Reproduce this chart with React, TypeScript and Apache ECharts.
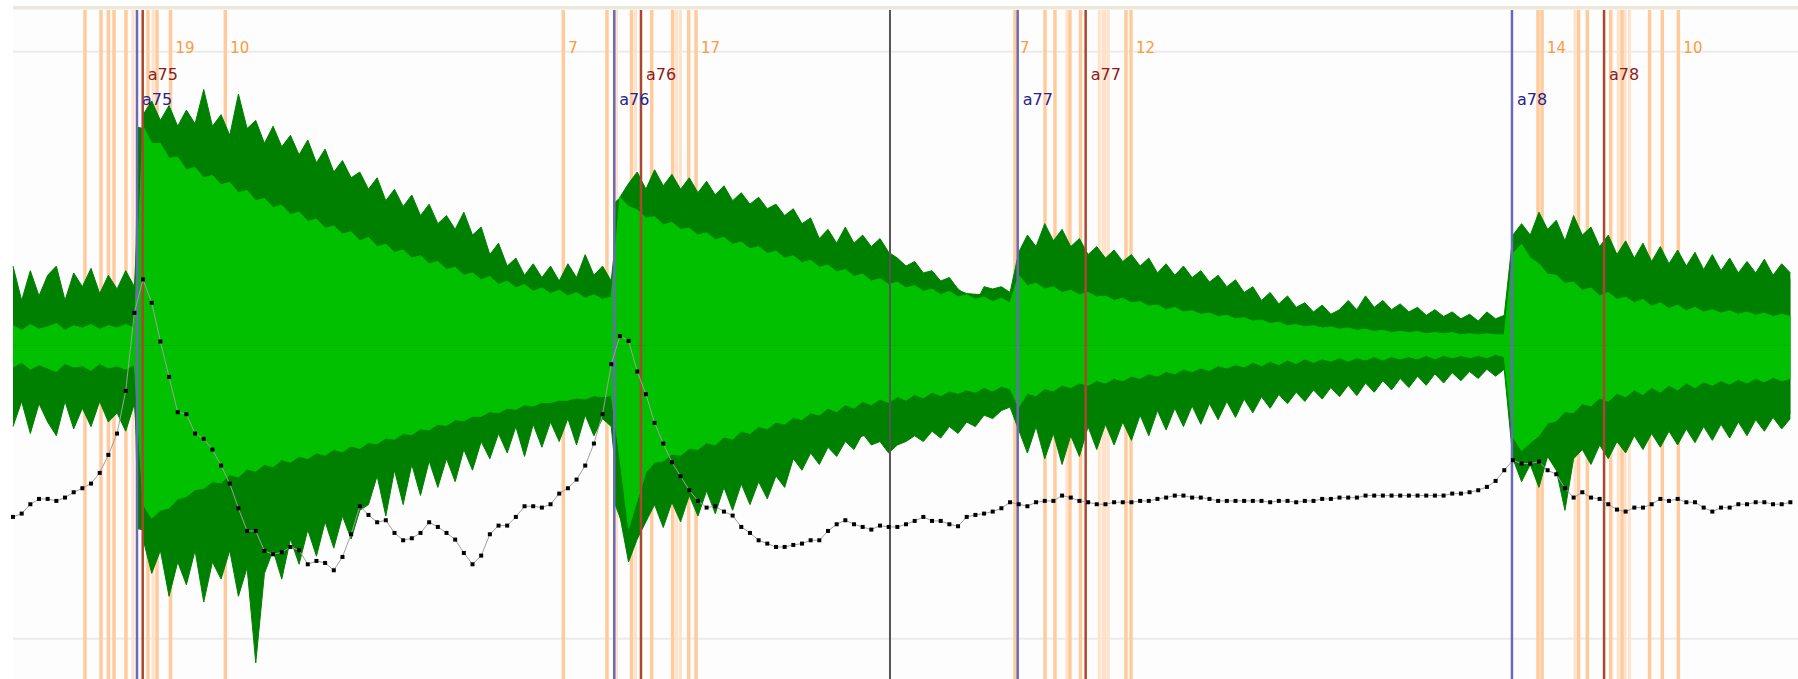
import { useEffect, useRef } from 'react';
import * as echarts from 'echarts';

// One analysis frame every 10 ms; the per-frame arrays below hold one value per frame.
const FRAME_MS = 10;

// Per-frame peak excursions of the signal (amplitude, full scale = ±256)
const peakTop = [
  69, 39, 65, 43, 61, 69, 39, 63, 51, 67, 45, 61, 49, 65, 51,
  201, 213, 196, 209, 191, 205, 193, 223, 191, 201, 183, 219, 189, 196, 176, 191, 173, 183, 166, 179,
  159, 171, 151, 161, 146, 151, 136, 146, 126, 136, 121, 131, 113, 123, 106, 113, 101, 116, 96, 103,
  79, 89, 69, 76, 61, 71, 59, 69, 56, 71, 59, 79, 61, 69, 56,
  129, 141, 151, 136, 153, 139, 149, 136, 146, 133, 143, 131, 139, 126, 133, 123, 129, 119, 123, 113,
  119, 106, 111, 93, 101, 89, 103, 89, 96, 86, 93, 81, 76, 69, 73, 63, 65, 56, 59, 49, 43, 36, 51, 49, 51, 46,
  81, 96, 86, 106, 91, 101, 86, 93, 79, 86, 76, 83, 73, 79, 69, 76, 63, 71, 61, 69,
  59, 65, 55, 61, 51, 57, 46, 51, 39, 46, 36, 43, 33, 37, 29, 35, 27, 31, 39, 31,
  43, 33, 39, 31, 36, 29, 33, 26, 31, 25, 29, 23, 27, 21, 29, 23, 26,
  96, 106, 96, 116, 101, 109, 91, 113, 96, 103, 86, 96, 79, 91, 76, 89, 73, 86, 71, 83,
  69, 81, 66, 79, 65, 76, 63, 73, 63, 75, 61, 71, 63,
];
const peakBottom = [
  -71, -49, -77, -51, -67, -79, -49, -73, -55, -71, -49, -67, -59, -75, -51,
  -169, -199, -179, -219, -189, -209, -179, -224, -189, -204, -179, -219, -194, -277, -199, -179, -204, -169, -191, -161,
  -184, -154, -177, -149, -169, -144, -139, -114, -149, -109, -139, -104, -131, -101, -124, -99, -119, -91, -109, -84,
  -99, -77, -94, -71, -97, -69, -89, -67, -84, -64, -87, -61, -79, -64, -71,
  -149, -189, -169, -154, -139, -159, -137, -154, -131, -149, -127, -147, -124, -144, -121, -139, -119, -134, -114, -124,
  -99, -109, -94, -104, -89, -97, -84, -91, -77, -87, -84, -94, -87, -84, -79, -84, -75, -81, -71, -77, -67, -71, -61, -64, -57, -54,
  -74, -94, -71, -99, -77, -104, -79, -97, -71, -91, -69, -87, -67, -83, -61, -79, -57, -74, -55, -71,
  -53, -69, -51, -65, -49, -63, -47, -59, -45, -55, -43, -51, -41, -49, -39, -47, -37, -45, -35, -44,
  -33, -41, -31, -39, -29, -37, -27, -35, -25, -33, -24, -31, -23, -29, -21, -27, -21,
  -99, -119, -104, -124, -97, -109, -144, -99, -91, -104, -87, -99, -84, -94, -79, -91, -77, -89, -75, -87,
  -73, -85, -71, -83, -69, -81, -67, -79, -65, -75, -63, -73, -64,
];

// Dense part of the signal envelope, at irregular times (ms); keeps the attacks sharp
const bandTimes = [
  0, 70, 141, 144, 200, 250, 300, 350, 400, 420, 450, 500, 550, 600, 650,
  692, 695, 710, 725, 750, 800, 850, 900, 950, 1000, 1050, 1100, 1150, 1157, 1160,
  1200, 1250, 1300, 1350, 1400, 1450, 1500, 1550, 1600, 1650, 1700, 1727, 1730, 1770, 1800,
  1850, 1900, 1950, 2000, 2050,
];
const bandTop = [
  36, 34, 36, 190, 180, 172, 165, 150, 135, 128, 112, 95, 72, 52, 50,
  48, 125, 135, 134, 128, 124, 117, 104, 86, 78, 60, 45, 42, 42, 78,
  82, 74, 65, 56, 48, 34, 27, 26, 26, 22, 20, 20, 90, 92, 86,
  74, 67, 62, 58, 57,
];
const bandBottom = [
  -46, -44, -46, -160, -170, -170, -165, -150, -130, -115, -105, -95, -78, -66, -60,
  -60, -140, -170, -150, -132, -122, -115, -95, -84, -76, -74, -64, -52, -52, -68,
  -70, -66, -58, -52, -47, -42, -37, -32, -27, -23, -19, -19, -92, -98, -92,
  -78, -72, -66, -62, -60,
];

// Per-frame RMS-like core of the signal
const coreTop = [
  17, 13, 18, 14, 16, 19, 13, 17, 15, 18, 14, 17, 15, 18, 15,
  191, 176, 176, 163, 164, 153, 155, 146, 148, 140, 142, 133, 135, 126, 128, 120, 122, 114, 116, 108,
  110, 102, 104, 97, 99, 91, 94, 86, 88, 81, 83, 76, 78, 71, 73, 66, 68, 61, 63, 57,
  60, 53, 56, 50, 53, 47, 50, 45, 48, 43, 46, 41, 44, 40, 42,
  129, 121, 118, 111, 112, 105, 107, 101, 102, 96, 98, 92, 94, 88, 90, 84, 86, 80, 82, 76,
  78, 72, 74, 68, 70, 64, 66, 60, 62, 56, 58, 53, 55, 50, 52, 47, 49, 44, 47, 42, 44, 40, 42, 38, 41, 37,
  61, 52, 54, 49, 51, 46, 48, 44, 46, 42, 43, 39, 41, 37, 38, 34, 35, 31, 33, 29,
  30, 27, 28, 25, 26, 23, 24, 21, 22, 19, 20, 17, 18, 16, 17, 15, 16, 14, 15, 13,
  14, 12, 13, 11, 12, 11, 12, 10, 11, 10, 11, 9, 10, 9, 10, 9, 9,
  80, 88, 76, 71, 62, 61, 54, 55, 48, 50, 43, 46, 40, 42, 37, 40, 34, 37, 32, 35,
  30, 33, 29, 31, 28, 30, 27, 29, 26, 28, 25, 27, 25,
];
const coreBottom = [
  -19, -15, -21, -17, -20, -23, -16, -19, -18, -22, -16, -20, -18, -21, -17,
  -139, -151, -144, -142, -134, -132, -126, -125, -119, -120, -113, -115, -108, -110, -104, -106, -100, -102, -97, -99,
  -94, -96, -91, -93, -88, -90, -85, -86, -81, -82, -77, -78, -73, -74, -69, -70, -65, -66, -62, -62,
  -58, -59, -55, -56, -52, -53, -50, -50, -48, -48, -46, -47, -44, -45, -44,
  -99, -160, -135, -111, -102, -101, -95, -96, -90, -91, -85, -87, -80, -82, -75, -77, -71, -73, -67, -69,
  -63, -65, -59, -61, -55, -58, -52, -55, -49, -52, -47, -50, -45, -48, -43, -46, -41, -44, -40, -42, -39, -41, -37, -40, -36, -38,
  -54, -42, -44, -38, -40, -35, -37, -33, -35, -31, -33, -29, -31, -27, -29, -25, -27, -23, -25, -21,
  -23, -20, -22, -18, -20, -17, -19, -15, -18, -14, -17, -13, -16, -12, -15, -12, -14, -11, -14, -11,
  -13, -10, -13, -10, -12, -10, -12, -9, -12, -9, -11, -9, -11, -9, -11, -8, -10,
  -80, -92, -85, -79, -68, -66, -58, -59, -51, -53, -46, -49, -42, -45, -39, -43, -37, -41, -35, -39,
  -33, -37, -32, -35, -31, -34, -30, -33, -29, -32, -28, -31, -29,
];

// Frame energy curve (0-100)
const energy = [
  24.3, 24.8, 26.2, 27.0, 27.0, 26.7, 27.2, 28.0, 28.6, 29.3,
  30.9, 33.6, 36.8, 43.2, 54.9, 59.9, 56.4, 50.6, 45.3, 40.0,
  39.7, 36.8, 36.0, 34.4, 32.0, 29.3, 25.6, 22.2, 22.2, 19.2,
  18.7, 19.0, 19.8, 19.3, 17.2, 17.7, 17.4, 16.3, 18.3, 21.7,
  25.9, 24.6, 23.5, 23.8, 21.9, 20.8, 21.1, 21.9, 23.5, 22.8,
  21.9, 20.9, 18.9, 17.2, 18.5, 21.7, 23.0, 23.0, 24.3, 25.9,
  25.9, 25.7, 26.2, 27.8, 28.6, 29.9, 32.0, 35.3, 39.7, 47.2,
  51.4, 50.7, 46.1, 42.7, 38.4, 35.3, 32.5, 30.4, 28.3, 26.7,
  25.7, 25.9, 25.1, 24.5, 22.8, 21.9, 20.8, 20.3, 19.8, 19.8,
  20.1, 20.3, 20.8, 20.8, 22.2, 23.2, 23.8, 23.2, 22.8, 22.4,
  23.0, 22.8, 22.8, 23.2, 23.7, 24.3, 23.7, 23.7, 23.2, 22.9,
  24.3, 24.6, 24.8, 25.1, 25.6, 26.5, 26.2, 25.9, 26.5, 26.7,
  26.7, 27.5, 27.2, 26.7, 26.5, 26.2, 26.2, 26.5, 26.5, 26.5,
  26.7, 26.7, 27.0, 27.2, 27.5, 27.5, 27.2, 27.2, 27.0, 26.7,
  26.7, 26.7, 26.7, 26.7, 26.7, 26.5, 26.7, 26.7, 26.5, 26.7,
  26.7, 27.0, 27.0, 27.2, 27.2, 27.2, 27.5, 27.5, 27.5, 27.5,
  27.5, 27.5, 27.5, 27.5, 27.5, 27.5, 27.8, 27.8, 28.0, 28.3,
  28.8, 29.7, 31.3, 32.8, 32.3, 32.3, 32.6, 31.3, 30.7, 28.6,
  27.2, 28.0, 27.2, 27.0, 26.2, 25.4, 25.1, 25.7, 25.7, 26.2,
  27.0, 26.7, 27.0, 26.5, 26.5, 25.7, 25.1, 25.7, 25.7, 26.2,
  26.2, 26.5, 26.5, 26.2, 26.2, 26.5,
];

// Candidate onset times (ms)
const candidateTimes = [
  83, 101.5, 110.1, 116.5, 130.3, 155.7, 166.1, 181.7, 244.9,
  634.7, 685.1, 713.4, 736.7, 760.9, 779.3, 787.8,
  1155.7, 1190.3, 1201.8, 1219.1, 1231.3, 1283.7, 1289.5,
  1758.9, 1763.6, 1805.7, 1815.8, 1842.8, 1855.8, 1887.6, 1902.3, 1920.8,
];
const weakCandidateTimes = [
  138.4, 161.5, 696.1, 718.0, 765.5, 769.9,
  1215.7, 1252.9, 1257.2, 1259.5, 1263.3,
  1801.6, 1851.6, 1859.3, 1864.3,
];
const countTimes = [181.7, 244.9, 634.7, 787.8, 1155.7, 1289.5, 1763.6, 1920.8];
const countLabels = ['19', '10', '7', '17', '7', '12', '14', '10'];

// Note onsets
const noteNames = ['a75', 'a76', 'a77', 'a78'];
const detectedTimes = [143.0, 693.5, 1158.8, 1728.9];
const markedTimes = [149.6, 724.3, 1237.2, 1835.1];
const cursorTimes = [1011.5];
const gridLevels = [256, -256];

const X_MAX = 2058.8;
const FONT = '"DejaVu Sans", Verdana, sans-serif';

function verticalLines(id: string, times: number[], stroke: string, lineWidth: number, z: number) {
  return {
    type: 'custom',
    id,
    z,
    silent: true,
    data: times.map((t) => [t]),
    encode: { x: 0 },
    renderItem: (params: any, api: any) => {
      const cs = params.coordSys;
      const x = api.coord([api.value(0), 0])[0];
      return {
        type: 'line',
        shape: { x1: x, y1: cs.y, x2: x, y2: cs.y + cs.height },
        style: { stroke, lineWidth },
      };
    },
  };
}

function lineLabels(id: string, times: number[], texts: string[], fill: string, font: string, dy: number, z: number) {
  return {
    type: 'custom',
    id,
    z,
    silent: true,
    data: times.map((t, i) => [t, i]),
    encode: { x: 0 },
    renderItem: (params: any, api: any) => {
      const cs = params.coordSys;
      const x = api.coord([api.value(0), 0])[0];
      return {
        type: 'text',
        x: x + 5,
        y: cs.y + dy,
        style: {
          text: texts[api.value(1)],
          fill,
          font,
          textVerticalAlign: 'middle',
          verticalAlign: 'middle',
        },
      };
    },
  };
}

function area(id: string, times: number[], values: number[], color: string, z: number) {
  return {
    type: 'line',
    id,
    z,
    silent: true,
    symbol: 'none',
    data: values.map((v, i) => [times[i], v]),
    lineStyle: { color, width: 1 },
    areaStyle: { color, opacity: 1, origin: 0 },
  };
}

const frameTimes = energy.map((_, i) => i * FRAME_MS);

export default function App() {
  const ref = useRef<HTMLDivElement>(null);

  useEffect(() => {
    if (!ref.current) return;
    const chart = echarts.init(ref.current, undefined, { renderer: 'svg' });
    chart.setOption({
      animation: false,
      backgroundColor: '#ffffff',
      grid: {
        left: 13,
        right: 0,
        top: 10,
        bottom: 0,
        show: true,
        backgroundColor: '#fdfdfd',
        borderWidth: 0,
      },
      xAxis: { type: 'value', min: 0, max: X_MAX, show: false },
      yAxis: [
        { type: 'value', min: -291.1, max: 292.3, show: false },
        { type: 'value', min: 0, max: 100.3, show: false },
      ],
      graphic: [
        {
          type: 'rect',
          shape: { x: 13, y: 6, width: 1785, height: 3.5 },
          style: { fill: '#ebe8d9' },
          z: 100,
        },
      ],
      series: [
        {
          type: 'custom',
          id: 'levels',
          z: 1,
          silent: true,
          data: gridLevels.map((v) => [v]),
          encode: { y: 0 },
          renderItem: (params: any, api: any) => {
            const cs = params.coordSys;
            const y = api.coord([0, api.value(0)])[1];
            return {
              type: 'line',
              shape: { x1: cs.x, y1: y, x2: cs.x + cs.width, y2: y },
              style: { stroke: '#ebebeb', lineWidth: 2 },
            };
          },
        },
        verticalLines('weakCandidates', weakCandidateTimes, '#ffe2c9', 3, 2),
        verticalLines('candidates', candidateTimes, '#ffcb9c', 3.5, 2),
        area('peakTop', frameTimes, peakTop, '#008000', 3),
        area('peakBottom', frameTimes, peakBottom, '#008000', 3),
        area('bandTop', bandTimes, bandTop, '#008000', 4),
        area('bandBottom', bandTimes, bandBottom, '#008000', 4),
        area('coreTop', frameTimes, coreTop, '#00c000', 5),
        area('coreBottom', frameTimes, coreBottom, '#00c000', 5),
        verticalLines('cursor', cursorTimes, '#555555', 2, 6),
        verticalLines('detected', detectedTimes, '#6a6ab8', 2.5, 6),
        verticalLines('marked', markedTimes, '#a9472f', 2.5, 6),
        lineLabels('countLabels', countTimes, countLabels, '#ff9a3c', `15px ${FONT}`, 38, 7),
        lineLabels('markedLabels', markedTimes, noteNames, '#8b1c1c', `16px ${FONT}`, 64, 7),
        lineLabels('detectedLabels', detectedTimes, noteNames, '#25258c', `16px ${FONT}`, 89, 7),
        {
          type: 'line',
          id: 'energy',
          z: 9,
          silent: true,
          yAxisIndex: 1,
          data: energy.map((v, i) => [frameTimes[i], v]),
          symbol: 'rect',
          symbolSize: 4,
          showSymbol: true,
          showAllSymbol: true,
          itemStyle: { color: '#000000' },
          lineStyle: { color: '#a0a0a0', width: 1 },
        },
      ],
    });
    return () => chart.dispose();
  }, []);

  return (
    <div
      ref={ref}
      style={{ position: 'absolute', left: 0, top: 0, width: 1798, height: 679, background: '#ffffff' }}
    />
  );
}
